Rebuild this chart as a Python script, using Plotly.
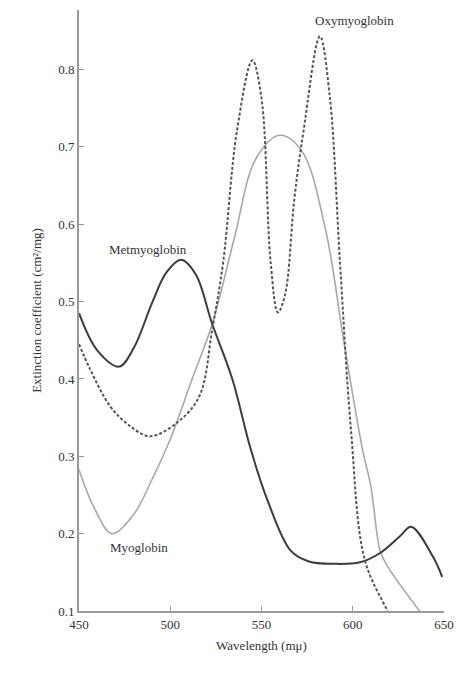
import plotly.graph_objects as go

# Metmyoglobin (solid dark)
met_wl = [450, 460, 472, 480, 490, 498, 506, 514, 523, 534, 544, 553, 566, 576, 590, 604, 615, 626, 632, 644, 649]
met_ec = [0.485, 0.437, 0.416, 0.44, 0.498, 0.538, 0.554, 0.535, 0.471, 0.40, 0.31, 0.245, 0.178, 0.164, 0.161, 0.163, 0.175, 0.197, 0.209, 0.17, 0.144]

# Myoglobin (solid light)
myo_wl = [450, 458, 468, 480, 490, 500, 512, 523, 535, 547, 560, 572, 585, 595, 605, 610, 615, 619, 635, 640]
myo_ec = [0.283, 0.235, 0.200, 0.225, 0.27, 0.322, 0.40, 0.471, 0.581, 0.685, 0.715, 0.695, 0.594, 0.45, 0.313, 0.26, 0.178, 0.158, 0.105, 0.09]

# Oxymyoglobin (dashed)
oxy_wl = [450, 456, 467, 478, 489, 504, 516, 523, 529, 536.5, 545, 550, 555, 559, 563, 568, 573, 582, 587.5, 593, 599, 606.6, 619, 625]
oxy_ec = [0.445, 0.413, 0.365, 0.339, 0.326, 0.344, 0.378, 0.464, 0.551, 0.72, 0.812, 0.763, 0.551, 0.486, 0.51, 0.633, 0.72, 0.843, 0.763, 0.551, 0.335, 0.166, 0.1, 0.07]

x_ticks = [450, 500, 550, 600, 650]
y_ticks = [0.1, 0.2, 0.3, 0.4, 0.5, 0.6, 0.7, 0.8]

labels = ["Oxymyoglobin", "Metmyoglobin", "Myoglobin"]
label_x = [601, 488, 483]
label_y = [0.864, 0.568, 0.182]

FONT = "Liberation Serif, DejaVu Serif, serif"

fig = go.Figure()
fig.add_trace(go.Scatter(x=myo_wl, y=myo_ec, mode="lines", name="Myoglobin",
                         line=dict(color="#a8a8a8", width=1.6, shape="spline", smoothing=1)))
fig.add_trace(go.Scatter(x=met_wl, y=met_ec, mode="lines", name="Metmyoglobin",
                         line=dict(color="#3c3c3c", width=2, shape="spline", smoothing=1)))
fig.add_trace(go.Scatter(x=oxy_wl, y=oxy_ec, mode="lines", name="Oxymyoglobin",
                         line=dict(color="#555555", width=2, dash="3px,2px", shape="spline", smoothing=1)))

for t, xx, yy in zip(labels, label_x, label_y):
    fig.add_annotation(x=xx, y=yy, text=t, showarrow=False,
                       font=dict(family=FONT, size=13, color="#333"))

fig.update_layout(
    width=457, height=673,
    margin=dict(l=79, r=13, t=10, b=62),
    paper_bgcolor="white", plot_bgcolor="white",
    showlegend=False,
    font=dict(family=FONT, size=13, color="#333"),
)
fig.update_xaxes(range=[450, 650], tickvals=x_ticks, ticktext=[str(v) for v in x_ticks],
                 showgrid=False, zeroline=False, showline=True, linecolor="#999", linewidth=2,
                 ticks="inside", ticklen=5, tickcolor="#999", automargin=False,
                 title=dict(text="Wavelength (mμ)", font=dict(family=FONT, size=13), standoff=10))
fig.update_yaxes(range=[0.1, 0.877], tickvals=y_ticks, ticktext=[f"{v:.1f}" for v in y_ticks],
                 showgrid=False, zeroline=False, showline=True, linecolor="#999", linewidth=2,
                 ticks="inside", ticklen=5, tickcolor="#999", automargin=False,
                 title=dict(text="Extinction coefficient (cm²/mg)", font=dict(family=FONT, size=13), standoff=14))

fig.write_html("out.html")
